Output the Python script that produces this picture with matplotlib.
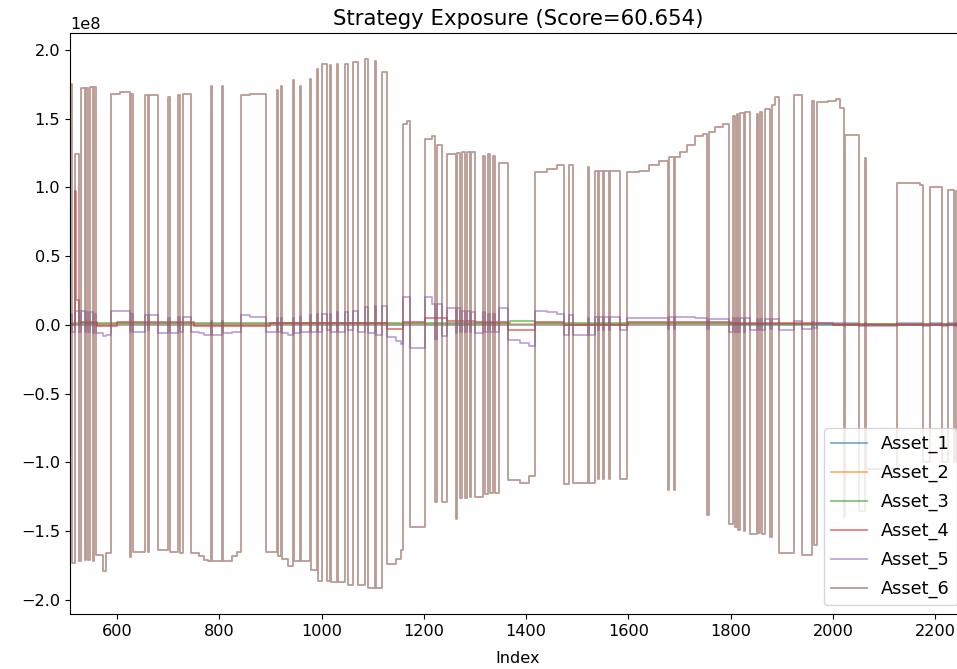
import numpy as np
import matplotlib
matplotlib.use('Agg')
import matplotlib.pyplot as plt

SCALE = 1e8
x_end = 2260

# asset 6 dominates: piecewise constant exposure, flips sign at each switch (units of 1e8)
seg_start = [508, 511, 518, 526, 529, 537, 540, 543, 547, 552, 555, 559,
             572, 579, 589, 605, 625, 628, 631, 655, 661, 663, 680, 700,
             703, 720, 724, 729, 745, 760, 770, 778, 784, 786, 805, 807,
             825, 835, 843, 860, 892, 912, 914, 921, 923, 935, 944, 946,
             958, 960, 977, 979, 991, 993, 1000, 1010, 1016, 1018, 1030, 1032,
             1046, 1052, 1062, 1072, 1085, 1091, 1105, 1107, 1118, 1128, 1145, 1155,
             1160, 1166, 1173, 1203, 1215, 1222, 1226, 1236, 1246, 1262, 1265, 1271,
             1274, 1281, 1284, 1290, 1293, 1300, 1316, 1320, 1326, 1330, 1336, 1340,
             1346, 1365, 1388, 1405, 1418, 1440, 1460, 1473, 1483, 1492, 1521, 1523,
             1535, 1541, 1543, 1551, 1553, 1561, 1563, 1584, 1597, 1620, 1640, 1660,
             1678, 1680, 1689, 1691, 1700, 1715, 1730, 1745, 1754, 1757, 1770, 1785,
             1796, 1805, 1808, 1812, 1815, 1818, 1825, 1828, 1837, 1851, 1854, 1857,
             1862, 1867, 1877, 1880, 1886, 1894, 1923, 1939, 1959, 1962, 1969, 1990,
             2005, 2013, 2021, 2024, 2050, 2063, 2065, 2125, 2170, 2175, 2190, 2214,
             2224, 2236, 2240, 2250]

asset6 = [1.75, -1.73, 1.24, -1.72, 1.72, -1.71, 1.72, -1.71, 1.73, -1.72, 1.73, -1.67,
          -1.79, -1.66, 1.68, 1.69, -1.69, 1.68, -1.65, 1.67, -1.65, 1.67, -1.64, 1.66,
          -1.65, 1.67, -1.66, 1.68, -1.66, -1.68, -1.71, -1.72, 1.74, -1.72, 1.74, -1.72,
          -1.68, -1.65, 1.67, 1.68, -1.65, 1.71, -1.68, 1.74, -1.70, -1.75, 1.78, -1.72,
          1.74, -1.72, 1.79, -1.78, 1.86, -1.86, 1.90, -1.86, 1.89, -1.87, 1.90, -1.87,
          1.90, -1.89, 1.91, -1.89, 1.93, -1.91, 1.92, -1.91, 1.84, -1.74, -1.70, -1.64,
          1.46, 1.48, -1.47, 1.35, 1.37, -1.29, 1.31, -1.29, 1.24, -1.41, 1.25, -1.26,
          1.26, -1.26, 1.26, -1.25, 1.26, -1.25, 1.23, -1.23, 1.24, -1.22, 1.23, -1.22,
          1.18, -1.13, -1.15, -1.10, 1.11, 1.13, 1.16, -1.16, 1.16, -1.15, 1.15, -1.15,
          1.12, -1.12, 1.12, -1.12, 1.12, -1.12, 1.12, -1.12, 1.11, 1.12, 1.16, 1.19,
          -1.20, 1.22, -1.20, 1.22, 1.26, 1.31, 1.37, 1.39, -1.38, 1.40, 1.44, 1.46,
          -1.45, 1.52, -1.47, 1.53, -1.49, 1.54, -1.50, 1.55, -1.52, 1.53, -1.51, 1.55,
          -1.52, 1.57, -1.54, 1.60, 1.66, -1.66, 1.67, -1.67, 1.63, -1.60, 1.62, 1.63,
          1.64, 1.58, -1.40, 1.38, -1.35, 1.21, -1.05, 1.03, 1.02, -1.00, 1.00, -1.00,
          0.98, -1.00, 0.97, -0.98]

asset5 = [0.08, -0.05, 0.10, -0.05, 0.10, -0.05, 0.09, -0.05, 0.09, -0.06, 0.08, -0.06,
          -0.08, -0.07, 0.10, 0.10, -0.05, 0.08, -0.05, 0.07, -0.04, 0.07, -0.06, 0.05,
          -0.06, 0.06, -0.05, 0.06, -0.05, -0.06, -0.07, -0.07, 0.03, -0.07, 0.03, -0.06,
          -0.05, -0.05, 0.07, 0.06, -0.05, 0.05, -0.05, 0.05, -0.06, -0.07, 0.05, -0.06,
          0.06, -0.05, 0.07, -0.05, 0.08, -0.05, 0.08, -0.04, 0.08, -0.05, 0.09, -0.05,
          0.09, -0.04, 0.10, -0.05, 0.13, -0.06, 0.14, -0.07, 0.14, -0.09, -0.12, -0.14,
          0.20, 0.20, -0.17, 0.20, 0.15, -0.10, 0.15, -0.08, 0.12, -0.06, 0.12, -0.05,
          0.10, -0.05, 0.10, -0.05, 0.09, -0.06, 0.09, -0.05, 0.08, -0.05, 0.08, -0.05,
          0.12, -0.11, -0.13, -0.15, 0.10, 0.09, 0.08, -0.07, 0.07, -0.07, 0.05, -0.07,
          0.06, -0.04, 0.06, -0.04, 0.06, -0.04, 0.06, -0.04, 0.05, 0.05, 0.05, 0.05,
          -0.03, 0.06, -0.03, 0.06, 0.06, 0.06, 0.05, 0.05, -0.03, 0.04, 0.04, 0.04,
          -0.05, 0.05, -0.05, 0.05, -0.05, 0.05, -0.05, 0.05, -0.04, 0.04, -0.04, 0.04,
          -0.04, 0.04, -0.03, 0.04, 0.04, -0.04, 0.03, -0.03, 0.02, -0.02, 0.01, 0.01,
          0.01, 0.01, -0.01, 0.01, -0.01, 0.01, -0.01, 0.01, 0.01, -0.01, 0.01, -0.01,
          0.01, -0.01, 0.01, -0.01]

# smaller assets, own breakpoints
asset4_x = [508, 518, 520, 526, 560, 600, 750, 900, 1128, 1160, 1203, 1246, 1300,
            1365, 1418, 1473, 1600, 1800, 2000]
asset4 = [0.0, 0.97, 0.18, 0.02, -0.01, 0.02, -0.01, 0.01, -0.03, 0.02, 0.05, 0.03, 0.02,
          -0.04, 0.02, 0.0, 0.02, 0.01, 0.0]
asset3_x = [508, 1000, 1369, 1418, 1800]
asset3 = [0.01, 0.01, 0.03, 0.01, 0.005]
asset2_x = [508]
asset2 = [0.005]
asset1_x = [508]
asset1 = [0.0]

names = ['Asset_1', 'Asset_2', 'Asset_3', 'Asset_4', 'Asset_5', 'Asset_6']
series = [(asset1_x, asset1), (asset2_x, asset2), (asset3_x, asset3),
          (asset4_x, asset4), (seg_start, asset5), (seg_start, asset6)]

plt.rcParams['font.size'] = 11.6

fig = plt.figure(figsize=(9.57, 6.69), dpi=100)
# right part of the axes runs past the picture edge, as in the cropped original
ax = fig.add_axes([70 / 957, 1 - 614 / 669, 896 / 957, 581 / 669])

for count, (xs, ys) in enumerate(series):
    x = np.append(xs, x_end)
    y = np.append(ys, ys[-1]) * SCALE
    ax.plot(x, y, color='C' + str(count), lw=1.3, alpha=0.6,
            drawstyle='steps-post', label=names[count])

ax.set_xlim(508, x_end)
ax.set_xlabel('Index', labelpad=9)
ax.set_title('Strategy Exposure (Score=60.654)', fontsize=15.3)
ax.legend(loc='lower right', fontsize=12.8, labelspacing=0.6)

fig.savefig('out.png', dpi=100)
